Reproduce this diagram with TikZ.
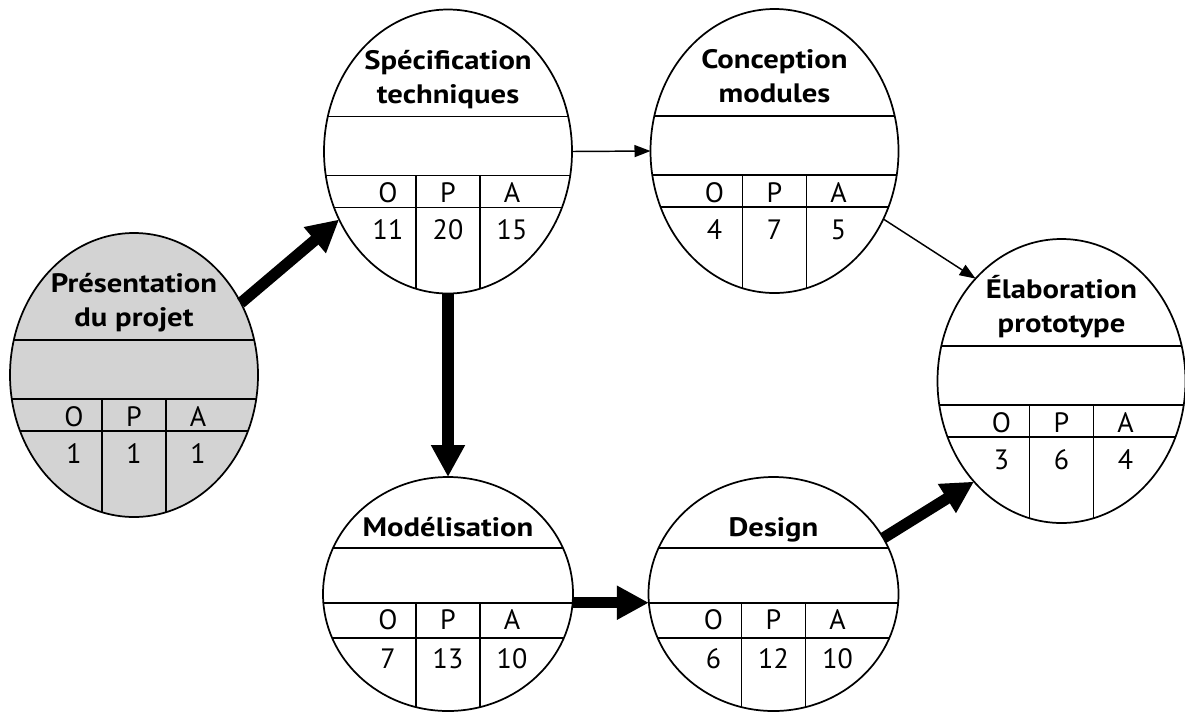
\documentclass[tikz,border=0pt]{standalone}
\usepackage{fontspec}
\setmainfont{PT Sans}
\newfontfamily\headfont{PT Sans}[FakeStretch=1.15]
\usetikzlibrary{shapes.geometric, arrows.meta, calc}

\definecolor{startgrey}{RGB}{211,211,211}

% Rules inside a task ellipse: title rule, header rule, value rule, two column rules
\newcommand{\opagrid}[3]{%
  \draw[rule] ($(path picture bounding box.center)+(-140,#1)$) -- +(280,0);
  \draw[rule] ($(path picture bounding box.center)+(-140,#2)$) -- +(280,0);
  \draw[rule] ($(path picture bounding box.center)+(-140,#3)$) -- +(280,0);
  \draw[rule] ($(path picture bounding box.center)+(-32,#2)$) -- +(0,200);
  \draw[rule] ($(path picture bounding box.center)+(32,#2)$) -- +(0,200);
}

% O / P / A headings and the three durations of a task
\newcommand{\opacells}[6]{%
  \node[cell] (#1-ho) at ($(#1.center)+(-60,#2)$) {O};
  \node[cell] (#1-hp) at ($(#1.center)+(0,#2)$) {P};
  \node[cell] (#1-ha) at ($(#1.center)+(64,#2)$) {A};
  \node[cell] (#1-vo) at ($(#1.center)+(-60,#3)$) {#4};
  \node[cell] (#1-vp) at ($(#1.center)+(0,#3)$) {#5};
  \node[cell] (#1-va) at ($(#1.center)+(64,#3)$) {#6};
}

\begin{document}
\begin{tikzpicture}[x=0.75pt, y=-0.75pt,
  rule/.style={line width=1.2pt},
  task/.style={ellipse, draw, line width=1.3pt, inner sep=0pt, outer sep=0pt},
  toptask/.style={task, minimum width=186pt, minimum height=213pt,
    path picture={\opagrid{-35}{24}{56}}},
  lowtask/.style={task, minimum width=187.5pt, minimum height=175.5pt,
    path picture={\opagrid{-46}{9}{44}}},
  heading/.style={font=\headfont\bfseries\fontsize{20}{25.5}\selectfont, align=center,
    anchor=base, inner sep=0pt},
  cell/.style={font=\fontsize{21}{24}\selectfont, anchor=base, inner sep=0pt},
  bigarrow/.style={line width=8.5pt, -{Triangle[length=24pt,width=24pt]}},
  thinarrow/.style={line width=1.1pt, -{Triangle[length=12pt,width=9pt]}},
]
\useasboundingbox (0,0) rectangle (1185,715);

% tasks
\node[toptask, fill=startgrey] (pres) at (134,375) {};
\node[toptask] (spec) at (448,151.5) {};
\node[toptask] (conc) at (774.5,151) {};
\node[toptask] (elab) at (1061.5,381) {};
\node[lowtask] (mod) at (448,594) {};
\node[lowtask] (design) at (773.5,594) {};

% titles (anchored on the baseline of their last line)
\node[heading] (pres-t) at ($(pres.center)+(0,-48.5)$) {Présentation\\du projet};
\node[heading] (spec-t) at ($(spec.center)+(0,-48.5)$) {Spécification\\techniques};
\node[heading] (conc-t) at ($(conc.center)+(0,-48.5)$) {Conception\\modules};
\node[heading] (elab-t) at ($(elab.center)+(0,-48.5)$) {Élaboration\\prototype};
\node[heading] (mod-t) at ($(mod.center)+(0,-58)$) {Modélisation};
\node[heading] (design-t) at ($(design.center)+(0,-58)$) {Design};

% durations
\opacells{pres}{51}{88}{1}{1}{1}
\opacells{spec}{51}{88}{11}{20}{15}
\opacells{conc}{51}{88}{4}{7}{5}
\opacells{elab}{51}{88}{3}{6}{4}
\opacells{mod}{35}{74}{7}{13}{10}
\opacells{design}{35}{74}{6}{12}{10}

% dependencies
\draw[bigarrow] (pres.34) -- (spec.212);
\draw[bigarrow] (spec.south) -- (mod.north);
\draw[thinarrow] (spec.east) -- (conc.west);
\draw[thinarrow] (conc.-32) -- (elab.130);
\draw[bigarrow] (mod.-4) -- (design.184);
\draw[bigarrow] (design.27) -- (elab.229);
\end{tikzpicture}
\end{document}
